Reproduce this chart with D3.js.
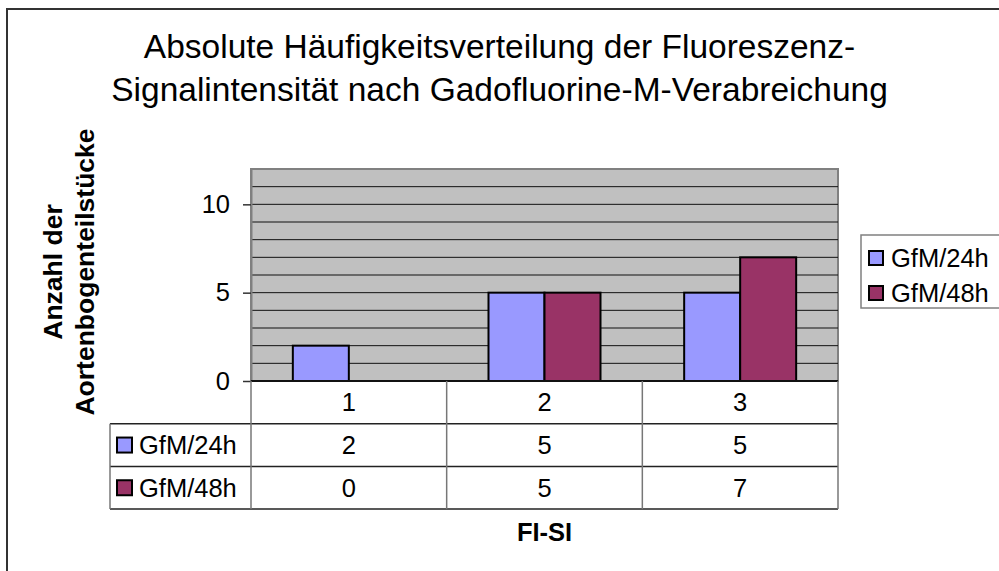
<!DOCTYPE html>
<html>
<head>
<meta charset="utf-8">
<script src="https://cdn.jsdelivr.net/npm/d3@7"></script>
<style>
  body { margin: 0; background: #fff; }
  text { font-family: "Liberation Sans", Arial, sans-serif; fill: #000; }
</style>
</head>
<body>
<div id="chart"></div>
<script>
// data
const categories = ["1", "2", "3"];
const seriesNames = ["GfM/24h", "GfM/48h"];
const gfm24 = [2, 5, 5];
const gfm48 = [0, 5, 7];
const yTicks = [0, 5, 10];
const seriesColors = ["#9999ff", "#993366"];

const W = 999, H = 571;
const plot = {left: 251, right: 838, top: 169, bottom: 381};
const rowH = 42.7;
const fontSize = "25.5px";

const svg = d3.select("#chart").append("svg")
    .attr("width", W)
    .attr("height", H);

// outer frame (runs off the right and bottom edges)
svg.append("rect")
    .attr("x", 7).attr("y", 9)
    .attr("width", 1100).attr("height", 700)
    .attr("fill", "#fff")
    .attr("stroke", "#333").attr("stroke-width", 2);

// title
const title = svg.append("text")
    .attr("text-anchor", "middle")
    .style("font-size", "33.5px");
title.append("tspan").attr("x", 499.5).attr("y", 58).text("Absolute Häufigkeitsverteilung der Fluoreszenz-");
title.append("tspan").attr("x", 499.5).attr("y", 101).text("Signalintensität nach Gadofluorine-M-Verabreichung");

let x = d3.scaleBand()
    .domain(categories)
    .range([plot.left, plot.right]);

let xSeries = d3.scaleBand()
    .domain(seriesNames)
    .range([0, x.bandwidth()])
    .paddingOuter(0.747);

let y = d3.scaleLinear()
    .domain([0, 12])
    .range([plot.bottom, plot.top]);

// plot area
svg.append("rect")
    .attr("x", plot.left).attr("y", plot.top)
    .attr("width", plot.right - plot.left)
    .attr("height", plot.bottom - plot.top)
    .attr("fill", "#c0c0c0")
    .attr("stroke", "#808080").attr("stroke-width", 2);

svg.selectAll(".grid")
    .data(d3.range(1, 12))
    .enter().append("line")
    .attr("class", "grid")
    .attr("x1", plot.left).attr("x2", plot.right)
    .attr("y1", d => y(d)).attr("y2", d => y(d))
    .attr("stroke", "#111").attr("stroke-width", 1);

// bars
let barData = [];
categories.forEach(function(c, i) {
    barData.push({cat: c, s: 0, v: gfm24[i]});
    barData.push({cat: c, s: 1, v: gfm48[i]});
});

svg.selectAll(".bar")
    .data(barData.filter(d => d.v > 0))
    .enter().append("rect")
    .attr("class", "bar")
    .attr("x", d => x(d.cat) + xSeries(seriesNames[d.s]))
    .attr("y", d => y(d.v))
    .attr("width", xSeries.bandwidth())
    .attr("height", d => y(0) - y(d.v))
    .attr("fill", d => seriesColors[d.s])
    .attr("stroke", "#000").attr("stroke-width", 2);

// y axis
const yAxis = svg.append("g")
    .attr("transform", "translate(" + plot.left + ",0)")
    .call(d3.axisLeft(y).tickValues(yTicks).tickSize(8).tickPadding(13).tickSizeOuter(0));
yAxis.select(".domain").attr("stroke", "#808080").attr("stroke-width", 2);
yAxis.selectAll(".tick line").attr("stroke", "#333").attr("stroke-width", 1.5);
yAxis.selectAll(".tick text")
    .style("font-size", fontSize)
    .style("font-family", "'Liberation Sans', Arial, sans-serif")
    .attr("fill", "#000");

svg.append("line")
    .attr("x1", plot.left).attr("x2", plot.right)
    .attr("y1", plot.bottom).attr("y2", plot.bottom)
    .attr("stroke", "#111").attr("stroke-width", 2);

// y axis title
const yTitle = svg.append("text")
    .attr("transform", "translate(0,272) rotate(-90)")
    .attr("text-anchor", "middle")
    .style("font-size", "26.5px")
    .style("font-weight", "bold");
yTitle.append("tspan").attr("x", 0).attr("y", 62).text("Anzahl der");
yTitle.append("tspan").attr("x", 0).attr("y", 94).text("Aortenbogenteilstücke");

// data table
const tableLeft = 110;
const rows = [plot.bottom, plot.bottom + rowH, plot.bottom + 2 * rowH, plot.bottom + 3 * rowH];

svg.selectAll(".hline")
    .data(rows.slice(1))
    .enter().append("line")
    .attr("class", "hline")
    .attr("x1", tableLeft).attr("x2", plot.right)
    .attr("y1", d => d).attr("y2", d => d)
    .attr("stroke", "#222").attr("stroke-width", 1.5);

let vlines = categories.map(c => x(c)).concat([plot.right]);
svg.selectAll(".vline")
    .data(vlines)
    .enter().append("line")
    .attr("class", "vline")
    .attr("x1", d => d).attr("x2", d => d)
    .attr("y1", plot.bottom).attr("y2", rows[3])
    .attr("stroke", "#777").attr("stroke-width", 1.5);

svg.append("line")
    .attr("x1", tableLeft).attr("x2", tableLeft)
    .attr("y1", rows[1]).attr("y2", rows[3])
    .attr("stroke", "#777").attr("stroke-width", 1.5);

// header row: category labels
svg.selectAll(".catlabel")
    .data(categories)
    .enter().append("text")
    .attr("class", "catlabel")
    .attr("x", d => x(d) + x.bandwidth() / 2)
    .attr("y", (rows[0] + rows[1]) / 2)
    .attr("dy", "0.35em")
    .attr("text-anchor", "middle")
    .style("font-size", fontSize)
    .text(d => d);

const seriesValues = [gfm24, gfm48];
seriesNames.forEach(function(name, s) {
    let cy = (rows[s + 1] + rows[s + 2]) / 2;
    svg.append("rect")
        .attr("x", 117).attr("y", cy - 7.5)
        .attr("width", 15).attr("height", 15)
        .attr("fill", seriesColors[s])
        .attr("stroke", "#000").attr("stroke-width", 2);
    svg.append("text")
        .attr("x", 139).attr("y", cy)
        .attr("dy", "0.35em")
        .style("font-size", fontSize)
        .text(name);
    svg.selectAll(".val" + s)
        .data(seriesValues[s])
        .enter().append("text")
        .attr("x", (d, i) => x(categories[i]) + x.bandwidth() / 2)
        .attr("y", cy)
        .attr("dy", "0.35em")
        .attr("text-anchor", "middle")
        .style("font-size", fontSize)
        .text(d => d);
});

// x axis title
svg.append("text")
    .attr("x", (plot.left + plot.right) / 2)
    .attr("y", 541)
    .attr("text-anchor", "middle")
    .style("font-size", fontSize)
    .style("font-weight", "bold")
    .text("FI-SI");

// legend on the right (runs off the right edge)
const legend = svg.append("g").attr("transform", "translate(861,235)");
legend.append("rect")
    .attr("width", 200).attr("height", 73)
    .attr("fill", "#fff")
    .attr("stroke", "#808080").attr("stroke-width", 1.5);
seriesNames.forEach(function(name, s) {
    let cy = 23 + s * 35;
    legend.append("rect")
        .attr("x", 8).attr("y", cy - 7)
        .attr("width", 14).attr("height", 14)
        .attr("fill", seriesColors[s])
        .attr("stroke", "#000").attr("stroke-width", 2);
    legend.append("text")
        .attr("x", 30).attr("y", cy)
        .attr("dy", "0.35em")
        .style("font-size", fontSize)
        .text(name);
});
</script>
</body>
</html>
